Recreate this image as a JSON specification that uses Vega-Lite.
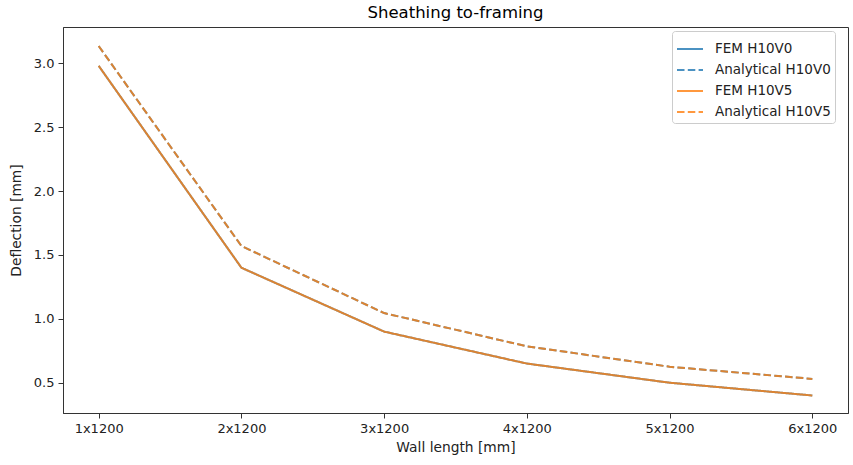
{
  "$schema": "https://vega.github.io/schema/vega-lite/v6.json",
  "width": 785,
  "height": 386,
  "autosize": {"type": "none"},
  "padding": {"left": 63, "top": 27, "right": 5, "bottom": 52},
  "title": {"text": "Sheathing to-framing", "fontSize": 16.5, "font": "DejaVu Sans", "fontWeight": "normal", "color": "#000", "offset": 6},
  "config": {
    "font": "DejaVu Sans",
    "view": {"stroke": "#333", "strokeWidth": 1},
    "axis": {"grid": false, "domainColor": "#333", "tickColor": "#333", "labelColor": "#222", "titleColor": "#222", "labelFontSize": 13, "titleFontSize": 13.8, "titleFontWeight": "normal", "tickSize": 5, "labelPadding": 4}
  },
  "data": {"values": [
    {"wall": "1x1200", "series": "FEM H10V0", "deflection": 2.98},
    {"wall": "2x1200", "series": "FEM H10V0", "deflection": 1.40},
    {"wall": "3x1200", "series": "FEM H10V0", "deflection": 0.90},
    {"wall": "4x1200", "series": "FEM H10V0", "deflection": 0.65},
    {"wall": "5x1200", "series": "FEM H10V0", "deflection": 0.50},
    {"wall": "6x1200", "series": "FEM H10V0", "deflection": 0.40},
    {"wall": "1x1200", "series": "Analytical H10V0", "deflection": 3.135},
    {"wall": "2x1200", "series": "Analytical H10V0", "deflection": 1.57},
    {"wall": "3x1200", "series": "Analytical H10V0", "deflection": 1.045},
    {"wall": "4x1200", "series": "Analytical H10V0", "deflection": 0.785},
    {"wall": "5x1200", "series": "Analytical H10V0", "deflection": 0.625},
    {"wall": "6x1200", "series": "Analytical H10V0", "deflection": 0.53},
    {"wall": "1x1200", "series": "FEM H10V5", "deflection": 2.98},
    {"wall": "2x1200", "series": "FEM H10V5", "deflection": 1.40},
    {"wall": "3x1200", "series": "FEM H10V5", "deflection": 0.90},
    {"wall": "4x1200", "series": "FEM H10V5", "deflection": 0.65},
    {"wall": "5x1200", "series": "FEM H10V5", "deflection": 0.50},
    {"wall": "6x1200", "series": "FEM H10V5", "deflection": 0.40},
    {"wall": "1x1200", "series": "Analytical H10V5", "deflection": 3.135},
    {"wall": "2x1200", "series": "Analytical H10V5", "deflection": 1.57},
    {"wall": "3x1200", "series": "Analytical H10V5", "deflection": 1.045},
    {"wall": "4x1200", "series": "Analytical H10V5", "deflection": 0.785},
    {"wall": "5x1200", "series": "Analytical H10V5", "deflection": 0.625},
    {"wall": "6x1200", "series": "Analytical H10V5", "deflection": 0.53}
  ]},
  "encoding": {
    "x": {"field": "wall", "type": "ordinal", "title": "Wall length [mm]", "scale": {"type": "point", "padding": 0.25}, "axis": {"labelAngle": 0, "titlePadding": 5}},
    "y": {"field": "deflection", "type": "quantitative", "title": "Deflection [mm]", "scale": {"domain": [0.263, 3.284], "nice": false, "zero": false}, "axis": {"values": [0.5, 1.0, 1.5, 2.0, 2.5, 3.0], "format": ".1f", "titlePadding": 10}},
    "color": {"field": "series", "type": "nominal", "scale": {"domain": ["FEM H10V0", "Analytical H10V0", "FEM H10V5", "Analytical H10V5"], "range": ["#1f77b4", "#1f77b4", "#ff7f0e", "#ff7f0e"]},
      "legend": {"title": null, "orient": "none", "legendX": 609, "legendY": 4, "symbolType": "stroke", "symbolSize": 676, "symbolStrokeWidth": 2, "symbolOpacity": 0.8, "labelFontSize": 13.5, "labelColor": "#222", "labelOffset": 11, "rowPadding": 0, "strokeColor": "#ccc", "cornerRadius": 3, "padding": 4, "fillColor": "white"}},
    "strokeDash": {"field": "series", "type": "nominal", "scale": {"domain": ["FEM H10V0", "Analytical H10V0", "FEM H10V5", "Analytical H10V5"], "range": [[1, 0], [7.5, 3.3], [1, 0], [7.5, 3.3]]}, "legend": {"title": null}}
  },
  "layer": [
    {"transform": [{"filter": "indexof(datum.series, 'V0') >= 0"}], "mark": {"type": "line", "strokeWidth": 2, "opacity": 0.8}},
    {"transform": [{"filter": "indexof(datum.series, 'V5') >= 0"}], "mark": {"type": "line", "strokeWidth": 2, "opacity": 0.8}}
  ]
}
